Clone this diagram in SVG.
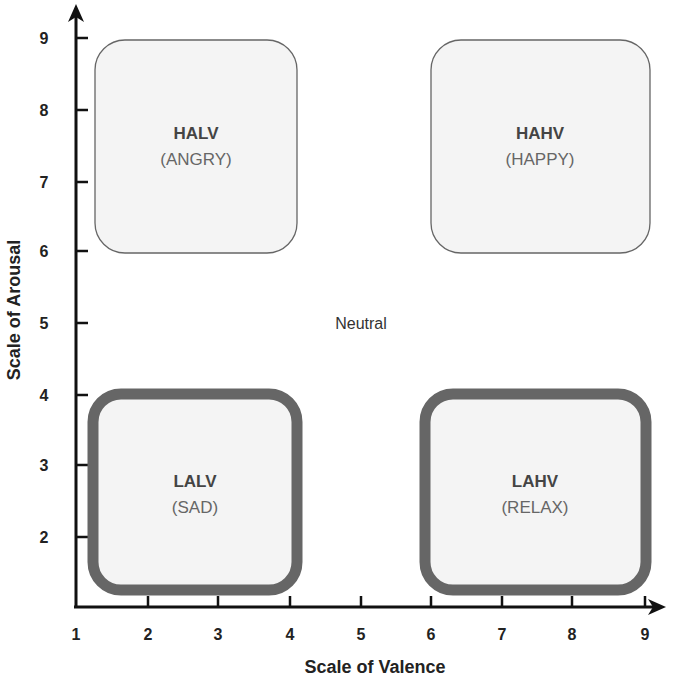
<svg xmlns="http://www.w3.org/2000/svg" width="685" height="688" viewBox="0 0 685 688">
<style>
.ax{stroke:#111;stroke-width:3;fill:none}
.tk{stroke:#111;stroke-width:2.5}
.num{font:bold 16px "Liberation Sans",Arial,sans-serif;fill:#222;text-anchor:middle}
.lab{font:bold 18px "Liberation Sans",Arial,sans-serif;fill:#222;text-anchor:middle}
.thin{fill:#f4f4f4;stroke:#666;stroke-width:1.3}
.thick{fill:#f4f4f4;stroke:#666;stroke-width:11}
.t1{font:bold 17px "Liberation Sans",Arial,sans-serif;fill:#444;text-anchor:middle}
.t2{font:17px "Liberation Sans",Arial,sans-serif;fill:#666;text-anchor:middle}
</style>
<rect width="685" height="688" fill="#fff"/>
<g id="connectors">
<path class="ax" d="M76 607V14M74 607H656"/>
<polygon points="76,4 68,22 76,17 84,22" fill="#111"/>
<polygon points="666,607 648,599 653,607 648,615" fill="#111"/>
<g class="tk">
<path d="M76 38H88M76 110H88M76 182H88M76 251H88M76 323H88M76 395H88M76 465H88M76 537H88"/>
<path d="M148 607V596M218 607V596M290 607V596M361 607V596M431 607V596M502 607V596M572 607V596M645 607V596"/>
</g>
</g>
<g id="ticks">
<text class="num" x="44" y="44">9</text><text class="num" x="44" y="116">8</text><text class="num" x="44" y="188">7</text><text class="num" x="44" y="257">6</text><text class="num" x="44" y="329">5</text><text class="num" x="44" y="401">4</text><text class="num" x="44" y="471">3</text><text class="num" x="44" y="543">2</text>
<text class="num" x="76" y="640">1</text><text class="num" x="148" y="640">2</text><text class="num" x="218" y="640">3</text><text class="num" x="290" y="640">4</text><text class="num" x="361" y="640">5</text><text class="num" x="431" y="640">6</text><text class="num" x="502" y="640">7</text><text class="num" x="572" y="640">8</text><text class="num" x="645" y="640">9</text>
<text class="lab" x="375" y="673">Scale of Valence</text>
<text class="lab" transform="translate(20 310) rotate(-90)">Scale of Arousal</text>
</g>
<g id="halv"><rect class="thin" x="95" y="40" width="202" height="213" rx="30"/><text class="t1" x="196" y="139">HALV</text><text class="t2" x="196" y="165">(ANGRY)</text></g>
<g id="hahv"><rect class="thin" x="431" y="40" width="219" height="213" rx="30"/><text class="t1" x="540" y="139">HAHV</text><text class="t2" x="540" y="165">(HAPPY)</text></g>
<g id="neutral"><text class="t2" x="361" y="329" style="fill:#333;font-size:16px">Neutral</text></g>
<g id="lalv"><rect class="thick" x="93" y="394" width="204" height="196" rx="28"/><text class="t1" x="195" y="487">LALV</text><text class="t2" x="195" y="513">(SAD)</text></g>
<g id="lahv"><rect class="thick" x="425" y="394" width="221" height="196" rx="28"/><text class="t1" x="535" y="487">LAHV</text><text class="t2" x="535" y="513">(RELAX)</text></g>
</svg>
